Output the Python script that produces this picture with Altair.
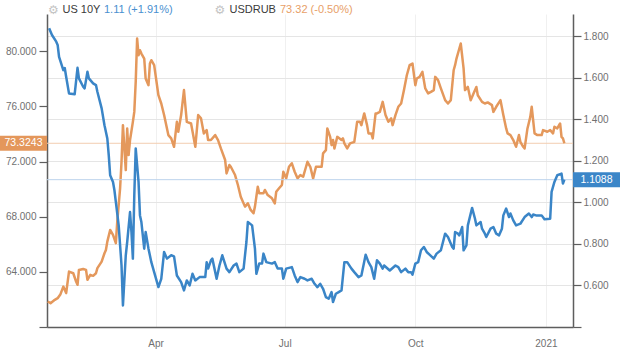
import altair as alt
import pandas as pd

# ---------------- data ----------------
# days are counted from 2020-01-01
us_days = [16, 18, 21, 22, 23, 26, 27, 28, 30, 34,
           36, 37, 40, 41, 43, 44, 47, 49, 50, 53,
           55, 57, 58, 59, 61, 62, 63, 65, 67, 68,
           70, 71, 73, 74, 75, 76, 77, 79, 80, 81,
           83, 84, 86, 88, 90, 93, 95, 97, 99, 102,
           104, 106, 109, 111, 113, 115, 117, 119, 122, 126,
           127, 128, 130, 131, 134, 136, 138, 141, 143, 146,
           148, 150, 153, 155, 156, 159, 161, 162, 164, 166,
           167, 169, 173, 175, 177, 180, 181, 183, 187, 189,
           191, 193, 196, 198, 201, 203, 205, 207, 209, 211,
           213, 215, 216, 218, 220, 222, 224, 226, 229, 231,
           234, 236, 239, 241, 243, 245, 247, 249, 251, 252,
           256, 260, 262, 264, 267, 269, 271, 272, 274, 276,
           278, 280, 282, 284, 287, 289, 292, 295, 297, 300,
           301, 302, 304, 305, 307, 308, 310, 311, 314, 316,
           317, 320, 321, 323, 324, 327, 329, 331, 333, 335,
           336, 338, 340, 341, 343, 345, 348, 351, 354, 356,
           357, 359, 363, 365, 369, 370, 372, 374, 377, 378,
           379]
us_vals = [1.837, 1.805, 1.773, 1.757, 1.700, 1.636, 1.646, 1.604, 1.524, 1.520,
           1.647, 1.596, 1.556, 1.548, 1.628, 1.596, 1.572, 1.564, 1.532, 1.452,
           1.371, 1.307, 1.227, 1.130, 1.098, 1.058, 1.002, 0.889, 0.697, 0.504,
           0.745, 0.809, 0.953, 0.857, 0.729, 1.034, 1.259, 1.098, 0.937, 0.905,
           0.777, 0.857, 0.777, 0.712, 0.664, 0.592, 0.632, 0.761, 0.729, 0.745,
           0.740, 0.648, 0.616, 0.576, 0.624, 0.600, 0.656, 0.624, 0.640, 0.640,
           0.712, 0.681, 0.721, 0.729, 0.632, 0.696, 0.745, 0.681, 0.664, 0.696,
           0.705, 0.664, 0.681, 0.809, 0.905, 0.889, 0.777, 0.656, 0.705, 0.705,
           0.753, 0.712, 0.705, 0.712, 0.681, 0.681, 0.632, 0.681, 0.688, 0.648,
           0.616, 0.640, 0.632, 0.624, 0.632, 0.608, 0.592, 0.608, 0.584, 0.544,
           0.536, 0.568, 0.520, 0.560, 0.568, 0.576, 0.712, 0.712, 0.681, 0.664,
           0.640, 0.648, 0.748, 0.712, 0.688, 0.632, 0.721, 0.705, 0.681, 0.696,
           0.672, 0.696, 0.688, 0.664, 0.681, 0.664, 0.664, 0.652, 0.705, 0.712,
           0.769, 0.785, 0.761, 0.748, 0.729, 0.753, 0.769, 0.849, 0.833, 0.785,
           0.777, 0.857, 0.849, 0.841, 0.881, 0.769, 0.793, 0.889, 0.973, 0.922,
           0.889, 0.905, 0.873, 0.849, 0.833, 0.873, 0.881, 0.849, 0.841, 0.873,
           0.937, 0.970, 0.929, 0.946, 0.913, 0.889, 0.897, 0.929, 0.946, 0.929,
           0.941, 0.937, 0.937, 0.918, 0.921, 1.050, 1.098, 1.130, 1.138, 1.090,
           1.1088]

rub_days = [15, 17, 20, 22, 24, 26, 28, 30, 33, 35,
            36, 37, 40, 42, 43, 45, 47, 49, 50, 53,
            55, 56, 57, 59, 61, 63, 64, 66, 67, 68,
            70, 71, 72, 73, 75, 76, 77, 78, 79, 80,
            81, 83, 84, 86, 87, 88, 90, 93, 95, 97,
            100, 102, 104, 106, 107, 109, 111, 113, 116, 119,
            121, 123, 125, 127, 128, 130, 133, 135, 137, 140,
            141, 143, 144, 147, 149, 151, 154, 156, 158, 160,
            161, 163, 164, 167, 168, 170, 173, 175, 176, 178,
            180, 181, 183, 185, 187, 189, 191, 193, 195, 197,
            198, 200, 202, 204, 208, 209, 211, 212, 214, 215,
            216, 217, 219, 222, 223, 224, 226, 228, 231, 233,
            235, 236, 238, 240, 241, 243, 244, 246, 247, 249,
            251, 253, 255, 257, 258, 260, 262, 264, 266, 268,
            270, 272, 274, 275, 277, 279, 281, 283, 285, 287,
            288, 290, 292, 295, 297, 299, 301, 302, 303, 305,
            306, 308, 309, 311, 313, 315, 317, 318, 321, 323,
            325, 328, 329, 331, 334, 336, 338, 339, 341, 343,
            345, 347, 348, 350, 351, 353, 355, 356, 358, 360,
            363, 364, 367, 369, 371, 372, 374, 376, 377, 378,
            379]
rub_vals = [61.85, 61.73, 61.97, 62.09, 62.38, 62.93, 62.46, 64.02, 63.90, 63.30,
            63.06, 64.14, 64.21, 64.14, 63.42, 63.78, 63.71, 63.90, 64.27, 64.74,
            65.35, 65.59, 66.19, 67.04, 66.68, 66.08, 67.64, 70.06, 71.98, 74.64,
            71.38, 74.40, 72.47, 73.56, 74.88, 75.60, 77.78, 80.92, 79.71, 80.07,
            79.83, 79.47, 78.02, 77.54, 79.11, 79.35, 78.99, 76.81, 76.21, 75.37,
            73.92, 73.68, 73.07, 74.88, 74.16, 75.37, 77.18, 74.88, 74.76, 73.07,
            75.37, 75.13, 74.04, 74.28, 73.56, 73.56, 73.92, 73.56, 72.95, 72.11,
            71.14, 71.75, 71.62, 71.02, 70.30, 69.45, 68.73, 68.97, 68.49, 68.25,
            68.73, 70.17, 69.70, 69.70, 69.94, 69.57, 69.33, 68.97, 69.81, 70.06,
            70.30, 71.26, 70.78, 71.62, 71.87, 71.26, 70.78, 71.02, 70.90, 71.62,
            71.98, 71.62, 70.78, 71.62, 71.62, 72.59, 72.83, 74.40, 73.79, 73.19,
            73.56, 72.95, 73.79, 73.56, 73.68, 73.32, 72.95, 73.32, 73.43, 74.88,
            74.88, 74.64, 75.49, 74.64, 74.04, 74.04, 73.68, 75.49, 75.49, 75.60,
            76.33, 75.37, 74.88, 75.13, 74.64, 75.37, 75.97, 76.21, 77.18, 78.26,
            78.99, 79.11, 77.54, 78.02, 78.14, 78.50, 77.30, 76.94, 77.05, 77.18,
            78.14, 77.90, 77.30, 76.45, 76.21, 76.45, 78.62, 78.99, 79.47, 80.20,
            80.56, 78.75, 77.18, 77.41, 76.45, 76.94, 77.41, 76.81, 76.33, 76.21,
            76.29, 76.09, 75.60, 75.97, 76.45, 75.37, 74.40, 74.04, 73.92, 73.56,
            73.07, 73.92, 73.43, 73.07, 72.95, 74.40, 75.24, 75.97, 74.04, 73.92,
            73.92, 74.28, 74.16, 74.28, 74.04, 74.52, 74.40, 74.76, 73.79, 73.68,
            73.3243]

rub_last = 73.3243
us_last = 1.1088
rub_last_label = "73.3243"
us_last_label = "1.1088"

left_ticks = [60, 64, 68, 72, 76, 80]
right_ticks = [0.4, 0.6, 0.8, 1.0, 1.2, 1.4, 1.6, 1.8]
x_tick_dates = [(2020, 4, 1), (2020, 7, 1), (2020, 10, 1), (2021, 1, 1)]

header_us_name = "US 10Y"
header_us_quote = "1.11 (+1.91%)"
header_rub_name = "USDRUB"
header_rub_quote = "73.32 (-0.50%)"
gear = "\u2699"

assert len(us_days) == len(us_vals)
assert len(rub_days) == len(rub_vals)

# ---------------- styling ----------------
FONT = "Liberation Sans"
BLUE = "#3a85c7"
ORANGE = "#e4985c"
AXIS_COL = "#5e5e5e"
LABEL_COL = "#707070"

base = pd.Timestamp("2020-01-01")
us_df = pd.DataFrame({"date": base + pd.to_timedelta(us_days, unit="D"), "value": us_vals})
rub_df = pd.DataFrame({"date": base + pd.to_timedelta(rub_days, unit="D"), "value": rub_vals})
rub_last_df = pd.DataFrame({"value": [rub_last], "label": [rub_last_label]})
us_last_df = pd.DataFrame({"value": [us_last], "label": [us_last_label]})

W, H = 526, 313

x_scale = alt.Scale(domain=[alt.DateTime(year=2020, month=1, date=15, hours=12),
                            alt.DateTime(year=2021, month=1, date=20, hours=2)])
x_axis = alt.Axis(
    values=[alt.DateTime(year=y, month=m, date=d) for (y, m, d) in x_tick_dates],
    labelExpr="month(datum.value) == 0 ? timeFormat(datum.value, '%Y') : timeFormat(datum.value, '%b')",
    grid=True, gridColor="#f0f0f0", gridWidth=1,
    ticks=False, labelPadding=11,
    domainColor=AXIS_COL, domainWidth=1.5,
    labelColor=LABEL_COL, labelFont=FONT, labelFontSize=10, title=None,
)

rub_scale = alt.Scale(domain=[60, 82.7], nice=False, zero=False)
us_scale = alt.Scale(domain=[0.4, 1.906], nice=False, zero=False)

left_axis = alt.Axis(
    orient="left", values=left_ticks,
    labelExpr="datum.value < 62 ? '' : format(datum.value, '.3f')",
    grid=False, tickSize=8, tickColor=AXIS_COL, tickWidth=1.2, labelPadding=3,
    domainColor=AXIS_COL, domainWidth=1.5,
    labelColor=LABEL_COL, labelFont=FONT, labelFontSize=10, title=None,
)
right_axis = alt.Axis(
    orient="right", values=right_ticks,
    labelExpr="datum.value < 0.5 ? '' : format(datum.value, '.3f')",
    grid=True, gridColor="#e5e5e5", gridWidth=1,
    tickSize=8, tickColor=AXIS_COL, tickWidth=1.2, labelPadding=2,
    domainColor=AXIS_COL, domainWidth=1.5,
    labelColor=LABEL_COL, labelFont=FONT, labelFontSize=10, title=None,
)

ry = alt.Y("value:Q", scale=rub_scale, axis=left_axis)
uy = alt.Y("value:Q", scale=us_scale, axis=right_axis)

# ---- USDRUB group (left axis) ----
rub_rule = alt.Chart(rub_last_df).mark_rule(color="#f3cdb0", strokeWidth=1).encode(y=ry)
rub_line = alt.Chart(rub_df).mark_line(color=ORANGE, strokeWidth=2.5, strokeJoin="round").encode(
    x=alt.X("date:T", scale=x_scale, axis=x_axis), y=ry)
rub_box = alt.Chart(rub_last_df).mark_tick(
    orient="horizontal", size=47, thickness=15, color="#e4975b", opacity=1).encode(
    y=ry, x=alt.value(-23.5))
rub_text = alt.Chart(rub_last_df).mark_text(
    color="white", font=FONT, fontSize=10.5, align="center", baseline="middle").encode(
    y=ry, x=alt.value(-23.5), text="label:N")
rub_group = alt.layer(rub_rule, rub_line, rub_box, rub_text)

# ---- US 10Y group (right axis) ----
us_rule = alt.Chart(us_last_df).mark_rule(color="#bcd3ec", strokeWidth=1).encode(y=uy)
us_line = alt.Chart(us_df).mark_line(color=BLUE, strokeWidth=2.5, strokeJoin="round").encode(
    x=alt.X("date:T", scale=x_scale, axis=x_axis), y=uy)
us_box = alt.Chart(us_last_df).mark_tick(
    orient="horizontal", size=47, thickness=15, color="#3b86c8", opacity=1).encode(
    y=uy, x=alt.value(W + 23.5))
us_text = alt.Chart(us_last_df).mark_text(
    color="white", font=FONT, fontSize=10.5, align="center", baseline="middle").encode(
    y=uy, x=alt.value(W + 23.5), text="label:N")
us_group = alt.layer(us_rule, us_line, us_box, us_text)


# ---- header ----
def head(txt, xpos, color, font=FONT, size=11):
    return alt.Chart(pd.DataFrame({"t": [txt]})).mark_text(
        align="left", baseline="middle", font=font, fontSize=size, color=color).encode(
        x=alt.value(xpos), y=alt.value(-4), text="t:N")


headers = [
    head(gear, 1, "#c4c4c4", font="DejaVu Sans", size=12),
    head(header_us_name, 15.5, "#3a3a3a"),
    head(header_us_quote, 57, "#4a90d0"),
    head(gear, 167.5, "#c4c4c4", font="DejaVu Sans", size=12),
    head(header_rub_name, 182.5, "#3a3a3a"),
    head(header_rub_quote, 233, "#e8a068"),
]

chart = alt.layer(rub_group, us_group, *headers).resolve_scale(
    y="independent"
).properties(
    width=W, height=H,
    autosize=alt.AutoSizeParams(type="none"),
    padding={"left": 47, "top": 14, "right": 47, "bottom": 25},
    background="white",
).configure_view(stroke=None)

chart.save("out.html", embed_options={"renderer": "svg", "actions": False})
